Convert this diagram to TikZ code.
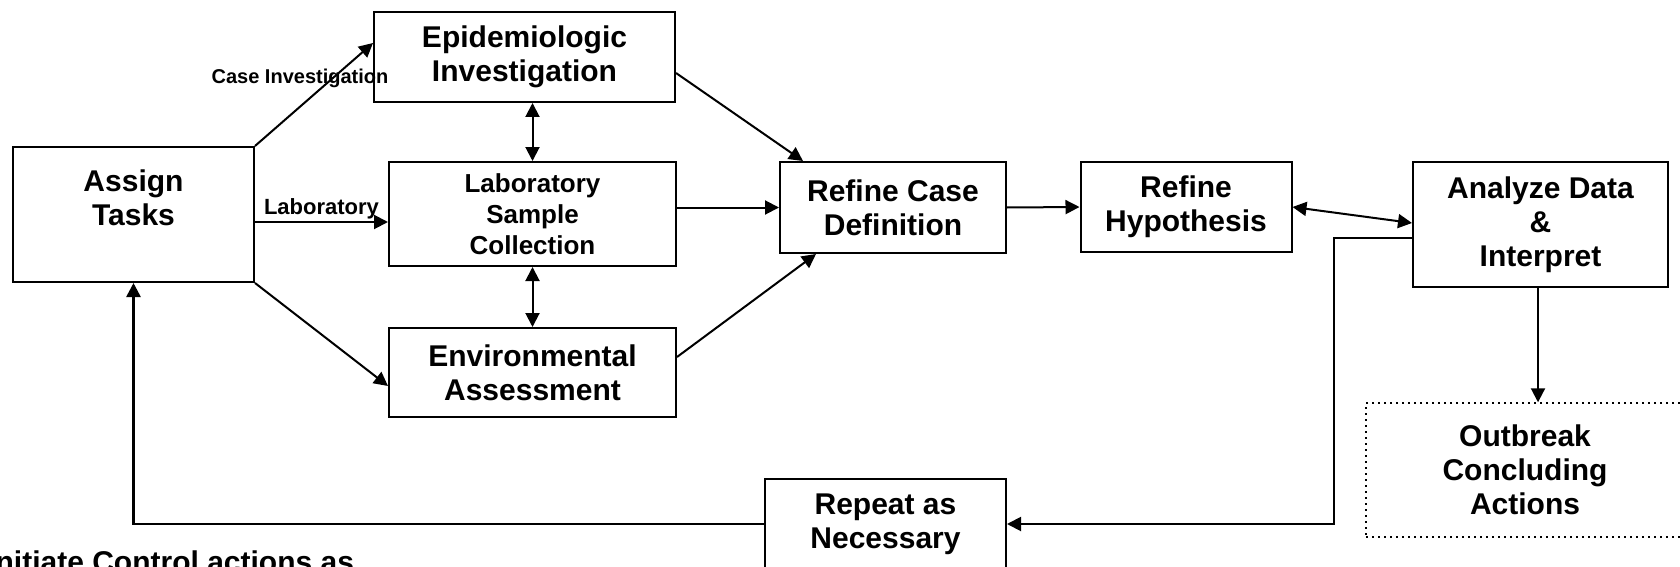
\documentclass[tikz,border=0pt]{standalone}
\usepackage{fontspec}
\setmainfont{Liberation Sans}
\usetikzlibrary{positioning}
\usetikzlibrary{calc,arrows.meta}

\begin{document}
\begin{tikzpicture}[x=0.5pt,y=-0.5pt,>={Triangle[length=7pt,width=7pt]},
  line width=1pt,
  box/.style={draw,line width=1pt,align=center,inner sep=0pt,font=\bfseries\fontsize{15}{17}\selectfont},
  small box/.style={box,font=\bfseries\fontsize{13}{15.5}\selectfont},
  edge label/.style={font=\bfseries\fontsize{10}{12}\selectfont,inner sep=1pt}]
\useasboundingbox (0,0) rectangle (1680,567);
\fill[white] (0,0) rectangle (1680,567);
\clip (0,0) rectangle (1680,567);
\node[box,minimum width=120.5pt,minimum height=67.5pt] at (133.5,214.5) (assign) {Assign\\Tasks\\\mbox{}};
\node[box,minimum width=150.5pt,minimum height=45pt] at (524.5,57) (epi) {Epidemiologic\\Investigation};
\node[small box,minimum width=143.5pt,minimum height=52pt] at (532.5,214) (lab) {Laboratory\\Sample\\Collection};
\node[box,minimum width=143.5pt,minimum height=44.5pt] at (532.5,372.5) (env) {Environmental\\Assessment};
\node[box,minimum width=113pt,minimum height=45.5pt] at (893,207.5) (refcase) {Refine Case\\Definition};
\node[box,minimum width=105.5pt,minimum height=45pt] at (1186,207) (refhyp) {Refine\\Hypothesis};
\node[box,minimum width=127.5pt,minimum height=62.5pt] at (1540.5,224.5) (analyze) {Analyze Data\\\&\\Interpret};
\node[box,dotted,line width=0.7pt,minimum width=159pt,minimum height=67pt] at (1525,470) (outbreak) {Outbreak\\Concluding\\Actions};
\node[box,minimum width=120.5pt,minimum height=45pt] at (885.5,524) (repeat) {Repeat as\\Necessary};
\node[anchor=base east,font=\bfseries\fontsize{15}{17}\selectfont,inner sep=0pt] at (355,572) (initiate) {Initiate Control actions as};
\node[edge label] at (300,78) (caselbl) {Case Investigation};
\coordinate (bend) at (1334,524);
\draw[->] (assign.north east) -- ([yshift=7pt]epi.west);
\draw[->] (assign.east |- 0,222) -- node[edge label,above,font=\bfseries\fontsize{11}{13}\selectfont] (lablbl) {Laboratory} (lab.west |- 0,222);
\draw[->] (assign.south east) -- ([yshift=-6.75pt]env.west);
\draw[<->] (lab.north |- epi.south) -- (lab.north);
\draw[<->] (lab.south) -- (env.north);
\draw[->] ([yshift=-8pt]epi.east) -- ([xshift=12pt]refcase.north west);
\draw[->] (lab.east |- refcase.west) -- (refcase.west);
\draw[->] ([yshift=7.75pt]env.east) -- ([xshift=18.5pt]refcase.south west);
\draw[->] (refcase.east) -- (refhyp.west);
\draw[<->] (refhyp.east) -- ([yshift=0.75pt]analyze.west);
\draw[->] (analyze.west |- 0,238) -| (bend) -- (repeat.east);
\draw[->,line width=1.3pt] (repeat.west) -| (assign.south);
\draw[->] ([xshift=-1.25pt]analyze.south) -- ([xshift=-1.25pt]analyze.south |- outbreak.north);
\end{tikzpicture}
\end{document}
